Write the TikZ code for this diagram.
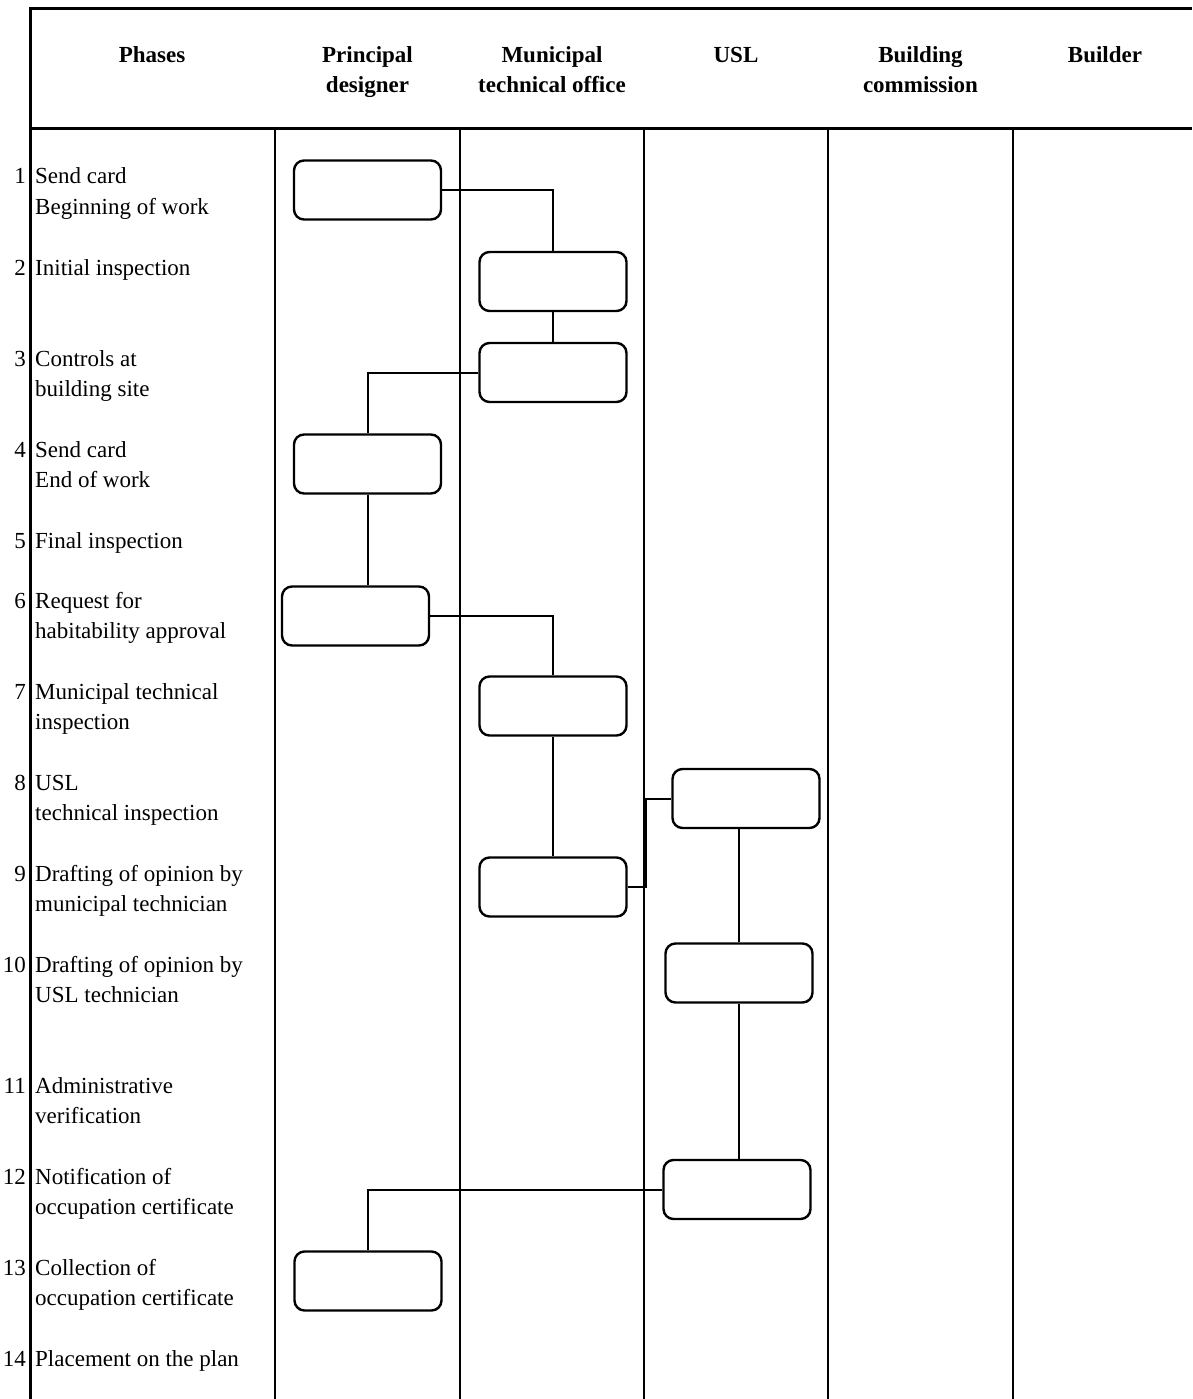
\documentclass[tikz,border=0pt]{standalone}
\usepackage{fontspec}
\setmainfont{Liberation Serif}
\begin{document}
\begin{tikzpicture}[x=1pt,y=-1pt,
  frame/.style={line width=3pt},
  lane/.style={line width=1.4pt},
  stepbox/.style={draw,line width=2.4pt,rounded corners=10pt,minimum width=147pt,minimum height=59pt,inner sep=0pt},
  conn/.style={line width=2pt},
  head/.style={font=\fontsize{23}{30}\selectfont\bfseries,align=center,anchor=base,inner sep=0pt},
  phase/.style={font=\fontsize{23}{30}\selectfont,align=left,anchor=base west,inner sep=0pt},
  num/.style={font=\fontsize{23}{30}\selectfont,anchor=base east,inner sep=0pt}]
\useasboundingbox (0,0) rectangle (1192,1399);
% frame
\draw[frame] (30,1399) -- (30,9) -- (1192,9);
\draw[frame] (30,129) -- (1192,129);
\foreach \x in {275,460,644,828,1013} \draw[lane] (\x,129) -- (\x,1399);
% headers (base = last line)
\node[head] (h0) at (152,63) {Phases};
\node[head] (h1) at (367.5,93) {Principal\\designer};
\node[head] (h2) at (552,93) {Municipal\\technical office};
\node[head] (h3) at (736,63) {USL};
\node[head] (h4) at (920.5,93) {Building\\commission};
\node[head] (h5) at (1105,63) {Builder};
% phases: number / first baseline / last baseline / text
\foreach \n/\y/\z/\t in {1/184/214/{Send card\\Beginning of work},
  2/275/275/{Initial inspection},
  3/366/396/{Controls at\\building site},
  4/457/487/{Send card\\End of work},
  5/548/548/{Final inspection},
  6/608/638/{Request for\\habitability approval},
  7/699/729/{Municipal technical\\inspection},
  8/790/820/{USL\\technical inspection},
  9/881/911/{Drafting of opinion by\\municipal technician},
  10/972/1002/{Drafting of opinion by\\USL technician},
  11/1093/1123/{Administrative\\verification},
  12/1184/1214/{Notification of\\occupation certificate},
  13/1275/1305/{Collection of\\occupation certificate},
  14/1366/1366/{Placement on the plan}}{
  \node[num] (n\n) at (26,\y) {\n};
  \node[phase] (p\n) at (35,\z) {\t};
}
% boxes
\node[stepbox] (b1) at (367.5,190) {};
\node[stepbox] (b2) at (553,281.5) {};
\node[stepbox] (b3) at (553,372.5) {};
\node[stepbox] (b4) at (367.5,464) {};
\node[stepbox] (b6) at (355.5,616) {};
\node[stepbox] (b7) at (553,706) {};
\node[stepbox] (b8) at (746,798.5) {};
\node[stepbox] (b9) at (553,887) {};
\node[stepbox] (b10) at (739,973) {};
\node[stepbox] (b12) at (737,1189.5) {};
\node[stepbox] (b13) at (368,1281) {};
% connectors
\draw[conn] (b1.east) -| (b2.north);
\draw[conn] (b2.south) -- (b3.north);
\draw[conn] (b3.west) -| (b4.north);
\draw[conn] (b4.north |- b4.south) -- (b4.north |- b6.north);
\draw[conn] (b6.east) -| (b7.north);
\draw[conn] (b7.south) -- (b9.north);
\draw[conn] (b9.east) -- ++(18,0) |- (b8.west);
\draw[conn] (b10.north) -- (b10.north |- b8.south);
\draw[conn] (b10.south) -- (b10.south |- b12.north);
\draw[conn] (b12.west) -| (b13.north);
\end{tikzpicture}
\end{document}
